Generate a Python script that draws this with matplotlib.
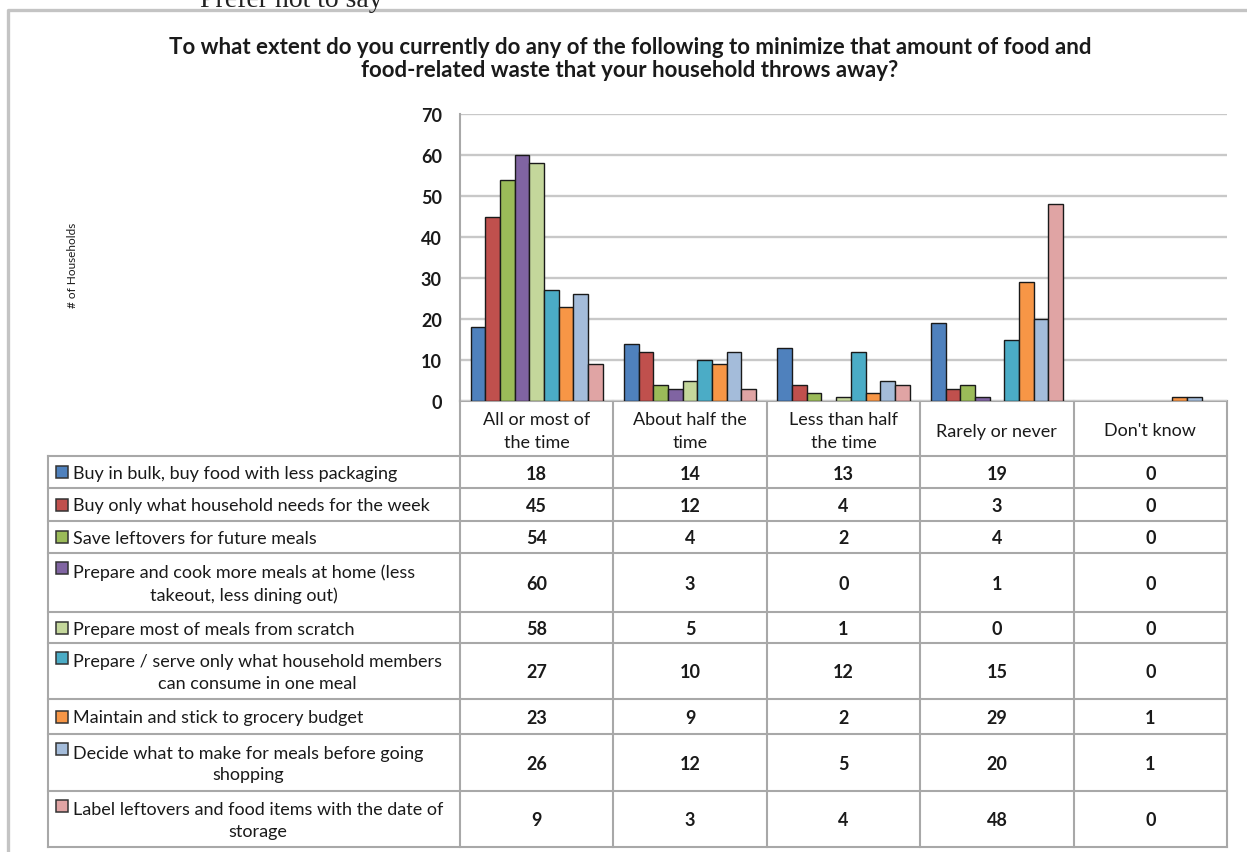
import matplotlib
matplotlib.use("Agg")
import matplotlib.pyplot as plt
from matplotlib.patches import Rectangle

# ---- data -------------------------------------------------------------
categories = [
    "All or most of\nthe time",
    "About half the\ntime",
    "Less than half\nthe time",
    "Rarely or never",
    "Don't know",
]
series_labels = [
    "Buy in bulk, buy food with less packaging",
    "Buy only what household needs for the week",
    "Save leftovers for future meals",
    "Prepare and cook more meals at home (less\ntakeout, less dining out)",
    "Prepare most of meals from scratch",
    "Prepare / serve only what household members\ncan consume in one meal",
    "Maintain and stick to grocery budget",
    "Decide what to make for meals before going\nshopping",
    "Label leftovers and food items with the date of\nstorage",
]
buy_bulk = [18, 14, 13, 19, 0]
buy_needs = [45, 12, 4, 3, 0]
save_leftovers = [54, 4, 2, 4, 0]
cook_home = [60, 3, 0, 1, 0]
from_scratch = [58, 5, 1, 0, 0]
serve_portion = [27, 10, 12, 15, 0]
grocery_budget = [23, 9, 2, 29, 1]
plan_meals = [26, 12, 5, 20, 1]
label_leftovers = [9, 3, 4, 48, 0]
series_values = [buy_bulk, buy_needs, save_leftovers, cook_home, from_scratch,
                 serve_portion, grocery_budget, plan_meals, label_leftovers]

colors = ["#4F81BD", "#C0504D", "#9BBB59", "#8064A2", "#C4D79B",
          "#4BACC6", "#F79646", "#A4BCDA", "#E0A4A4"]

title = ("To what extent do you currently do any of the following to minimize that amount of food and\n"
         "food-related waste that your household throws away?")

plt.rcParams["font.family"] = ["Lato", "DejaVu Sans"]

W, H = 1247, 853
TEXT = "#1A1A1A"
LINE = "#A8A8A8"

fig = plt.figure(figsize=(W / 100, H / 100), dpi=100)
fig.patch.set_facecolor("white")

# overlay in pixel coordinates for the frame and data table
ov = fig.add_axes([0, 0, 1, 1])
ov.set_xlim(0, W)
ov.set_ylim(H, 0)
ov.axis("off")

# outer chart frame (cropped at the right and bottom)
ov.plot([8, 8, W], [H, 11, 11], color="#C4C4C4", lw=2.4, solid_capstyle="butt")
ov.text(200, 7, "Prefer not to say", family="Liberation Serif", fontsize=20,
        ha="left", va="baseline", color="#222222")

ov.text(630, 59, title, ha="center", va="center", fontsize=16, fontweight="bold",
        color=TEXT, linespacing=1.12)

# ---- bar chart --------------------------------------------------------
plot_l, plot_r, plot_t, plot_b = 460, 1227, 115, 402
ax = fig.add_axes([plot_l / W, (H - plot_b) / H, (plot_r - plot_l) / W, (plot_b - plot_t) / H])
ax.set_facecolor("none")
n_series = len(series_values)
bw = 0.0957
for j, vals in enumerate(series_values):
    xs = [i + (j - (n_series - 1) / 2) * bw for i in range(len(categories))]
    ax.bar(xs, vals, width=bw, color=colors[j],
           edgecolor=["#1A1A1A" if v > 0 else "none" for v in vals],
           linewidth=1.0, zorder=3)
ax.set_xlim(-0.5, len(categories) - 0.5)
ax.set_ylim(0, 70)
ax.set_yticks(range(0, 71, 10))
ax.set_xticks([])
ax.yaxis.grid(True, color="#C8C8C8", lw=1.7)
ax.set_axisbelow(True)
for s in ["top", "right", "bottom"]:
    ax.spines[s].set_visible(False)
ax.spines["left"].set_color(LINE)
ax.spines["left"].set_linewidth(1.5)
ax.tick_params(axis="y", length=0, pad=13, labelsize=13, labelcolor=TEXT)
for lab in ax.get_yticklabels():
    lab.set_fontweight("bold")

ov.text(72, 265, "# of Households", rotation=90, ha="center", va="center",
        fontsize=8.5, color=TEXT)

# ---- data table -------------------------------------------------------
col_w = (plot_r - plot_l) / len(categories)
col_edges = [plot_l + k * col_w for k in range(len(categories) + 1)]
row_edges = [457, 489, 522, 554, 613, 644, 700, 735, 792, 848]
tab_l = 48

ov.plot([plot_l, plot_r], [plot_b, plot_b], color=LINE, lw=1.5)
for x in col_edges:
    ov.plot([x, x], [plot_b, row_edges[-1]], color=LINE, lw=1.5)
ov.plot([tab_l, tab_l], [row_edges[0], row_edges[-1]], color=LINE, lw=1.5)
for y in row_edges:
    ov.plot([tab_l, plot_r], [y, y], color=LINE, lw=1.5)

fs = 13
for i, cat in enumerate(categories):
    cx = (col_edges[i] + col_edges[i + 1]) / 2
    ov.text(cx, (plot_b + row_edges[0]) / 2 + 2, cat, ha="center", va="center",
            fontsize=fs, color=TEXT, linespacing=1.48)

for r, (lab, vals) in enumerate(zip(series_labels, series_values)):
    y0, y1 = row_edges[r], row_edges[r + 1]
    yc = (y0 + y1) / 2
    two_line = "\n" in lab
    key_y = y0 + 15 if two_line else yc
    ov.add_patch(Rectangle((56, key_y - 6), 12, 12, facecolor=colors[r],
                           edgecolor="#333333", lw=1.1))
    ov.text(73, yc + 1, lab, ha="left", va="center", multialignment="center",
            fontsize=fs, color=TEXT, linespacing=1.45)
    for i, v in enumerate(vals):
        cx = (col_edges[i] + col_edges[i + 1]) / 2
        ov.text(cx, yc + 1, str(v), ha="center", va="center", fontsize=fs,
                fontweight="bold", color=TEXT)

fig.savefig("out.png", dpi=100, facecolor="white")
